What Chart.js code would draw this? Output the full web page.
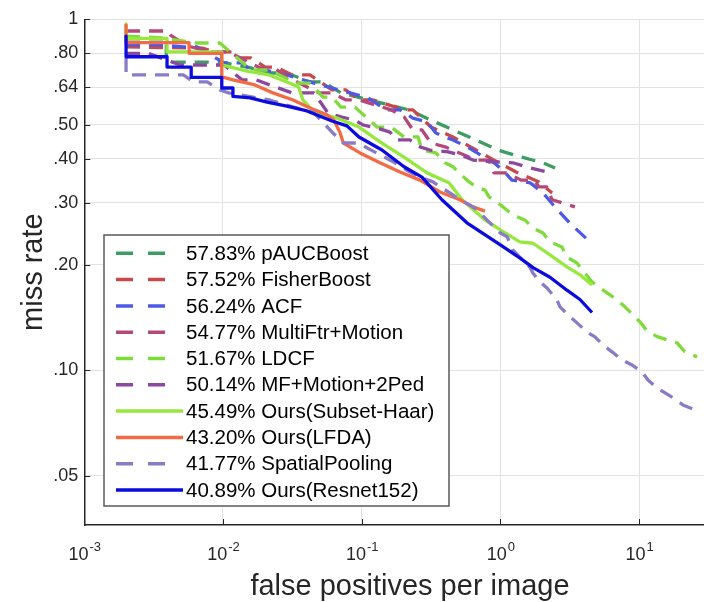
<!DOCTYPE html>
<html>
<head>
<meta charset="utf-8">
<script src="https://cdn.jsdelivr.net/npm/chart.js@4.4.1/dist/chart.umd.min.js"></script>
<style>
  html, body { margin: 0; padding: 0; background: #fff; }
</style>
</head>
<body>
<canvas id="roc" width="704" height="602"></canvas>
<script>
// false positives per image -> miss rate
const pAUCBoost = [[0.002,0.88],[0.0039,0.88],[0.0039,0.755],[0.0098,0.755],[0.0159,0.727],[0.0201,0.703],[0.0289,0.703],[0.0424,0.663],[0.0526,0.663],[0.0709,0.617],[0.140,0.577],[0.219,0.552],[0.316,0.516],[0.455,0.484],[0.667,0.453],[0.961,0.424],[1.41,0.405],[2.03,0.390],[2.48,0.377]];
const fisherBoost = [[0.002,0.834],[0.0071,0.828],[0.0088,0.807],[0.0118,0.807],[0.0128,0.776],[0.0159,0.776],[0.0201,0.731],[0.0241,0.731],[0.0314,0.694],[0.0424,0.694],[0.0611,0.629],[0.077,0.629],[0.0956,0.589],[0.121,0.589],[0.202,0.552],[0.234,0.552],[0.316,0.493],[0.455,0.462],[0.667,0.424],[0.899,0.397],[1.30,0.367],[1.90,0.344],[2.36,0.320]];
const acf = [[0.002,0.845],[0.0035,0.845],[0.0052,0.834],[0.0065,0.834],[0.0102,0.751],[0.0137,0.751],[0.0159,0.717],[0.0201,0.717],[0.0289,0.694],[0.0453,0.658],[0.0611,0.637],[0.0823,0.617],[0.111,0.597],[0.150,0.552],[0.189,0.552],[0.234,0.523],[0.296,0.510],[0.343,0.474],[0.399,0.462],[0.455,0.453],[0.574,0.433],[0.899,0.390],[1.04,0.372],[1.21,0.348],[1.64,0.342],[2.03,0.320],[2.40,0.296],[3.18,0.262],[4.43,0.232]];
const multiFtrMotion = [[0.002,0.926],[0.0040,0.926],[0.0042,0.90],[0.0055,0.84],[0.0082,0.807],[0.011,0.807],[0.0185,0.727],[0.0233,0.727],[0.0289,0.685],[0.0492,0.617],[0.0611,0.617],[0.077,0.589],[0.0956,0.589],[0.163,0.552],[0.202,0.527],[0.234,0.484],[0.272,0.484],[0.316,0.444],[0.399,0.433],[0.667,0.397],[0.828,0.397],[0.899,0.365],[1.12,0.365],[1.41,0.348],[1.75,0.348],[1.90,0.333],[2.16,0.333],[2.36,0.306],[3.45,0.292]];
const ldcf = [[0.002,0.896],[0.0036,0.885],[0.0065,0.856],[0.0095,0.856],[0.0159,0.717],[0.0215,0.717],[0.0336,0.658],[0.0424,0.658],[0.0526,0.600],[0.0611,0.600],[0.0709,0.562],[0.0895,0.562],[0.129,0.493],[0.163,0.493],[0.202,0.462],[0.255,0.462],[0.272,0.424],[0.343,0.416],[0.399,0.390],[0.455,0.380],[0.574,0.348],[0.667,0.333],[0.775,0.326],[0.828,0.312],[1.0,0.296],[1.23,0.277],[1.50,0.268],[1.72,0.254],[2.03,0.246],[2.28,0.232],[2.78,0.2245],[3.02,0.210],[3.57,0.202],[4.07,0.189],[4.58,0.1785],[5.22,0.1715],[6.17,0.1638],[6.93,0.1586],[7.91,0.1515],[9.04,0.1437],[10.15,0.1373],[11.6,0.1285],[13.7,0.1244],[15.9,0.122],[18.8,0.1196],[21.4,0.1128],[26.2,0.1091]];
const mfMotion2Ped = [[0.002,0.80],[0.0029,0.80],[0.0049,0.741],[0.0102,0.741],[0.0137,0.672],[0.0173,0.672],[0.0314,0.617],[0.0453,0.617],[0.0571,0.541],[0.0709,0.527],[0.0895,0.516],[0.102,0.500],[0.129,0.490],[0.160,0.477],[0.180,0.453],[0.223,0.453],[0.263,0.433],[0.311,0.424],[0.419,0.419],[0.511,0.411],[0.635,0.397],[0.841,0.393],[1.23,0.390],[1.64,0.377],[2.17,0.367],[2.36,0.367]];
const subsetHaar = [[0.002,0.970],[0.002,0.882],[0.00395,0.882],[0.00395,0.807],[0.0098,0.807],[0.0098,0.741],[0.0149,0.712],[0.0215,0.694],[0.0289,0.663],[0.0351,0.641],[0.0377,0.589],[0.0453,0.545],[0.0664,0.523],[0.0956,0.493],[0.140,0.444],[0.202,0.405],[0.296,0.365],[0.426,0.342],[0.53,0.306],[0.775,0.268],[1.0,0.251],[1.38,0.232],[1.72,0.230],[2.28,0.213],[3.02,0.197],[3.75,0.187],[4.58,0.175]];
const lfda = [[0.002,0.963],[0.002,0.858],[0.0057,0.858],[0.0057,0.80],[0.0098,0.80],[0.0098,0.685],[0.0118,0.672],[0.017,0.650],[0.0229,0.617],[0.032,0.589],[0.0424,0.559],[0.0562,0.534],[0.063,0.516],[0.0695,0.477],[0.0738,0.444],[0.0972,0.416],[0.1355,0.390],[0.189,0.367],[0.263,0.348],[0.367,0.322],[0.511,0.306],[0.635,0.292],[0.775,0.284]];
const spatialPooling = [[0.002,0.776],[0.002,0.694],[0.0052,0.694],[0.0061,0.663],[0.0077,0.663],[0.0095,0.629],[0.011,0.617],[0.0215,0.589],[0.0453,0.541],[0.0621,0.474],[0.0738,0.444],[0.094,0.444],[0.174,0.390],[0.223,0.367],[0.263,0.355],[0.327,0.344],[0.367,0.333],[0.433,0.320],[0.511,0.306],[0.635,0.292],[0.7125,0.281],[0.80,0.268],[1.0,0.246],[1.12,0.240],[1.23,0.220],[1.38,0.210],[1.64,0.196],[1.72,0.189],[1.93,0.1785],[2.17,0.1715],[2.56,0.1586],[2.69,0.1515],[3.18,0.142],[3.57,0.1364],[4.21,0.1285],[4.81,0.1244],[5.49,0.118],[6.38,0.1128],[7.53,0.107],[8.89,0.1035],[10.5,0.0989],[11.6,0.0938],[13.5,0.089],[17.6,0.0834],[20.7,0.0796],[25.3,0.077]];
const resnet152 = [[0.002,0.896],[0.002,0.782],[0.00395,0.782],[0.00395,0.731],[0.0059,0.731],[0.0059,0.683],[0.0098,0.683],[0.0098,0.637],[0.0118,0.637],[0.0118,0.603],[0.0157,0.597],[0.0208,0.581],[0.0289,0.566],[0.0403,0.548],[0.0611,0.513],[0.0783,0.497],[0.0956,0.462],[0.140,0.424],[0.202,0.380],[0.272,0.355],[0.379,0.306],[0.574,0.263],[1.0,0.2275],[1.38,0.209],[1.72,0.196],[2.28,0.184],[3.02,0.169],[3.75,0.159],[4.58,0.146]];

const seriesLabels = ["57.83% pAUCBoost", "57.52% FisherBoost", "56.24% ACF", "54.77% MultiFtr+Motion", "51.67% LDCF", "50.14% MF+Motion+2Ped", "45.49% Ours(Subset-Haar)", "43.20% Ours(LFDA)", "41.77% SpatialPooling", "40.89% Ours(Resnet152)"];
const seriesData = [pAUCBoost, fisherBoost, acf, multiFtrMotion, ldcf, mfMotion2Ped, subsetHaar, lfda, spatialPooling, resnet152];

const xTicks = [0.001, 0.01, 0.1, 1, 10];
const yTicks = [0.05, 0.1, 0.2, 0.3, 0.4, 0.5, 0.64, 0.8, 1];
const yTickText = [".05", ".10", ".20", ".30", ".40", ".50", ".64", ".80", "1"];
const xTitle = "false positives per image";
const yTitle = "miss rate";

// styles
const colors = ["#3c9c62", "#c9484a", "#4d5ae6", "#b5487a", "#7fdb3b", "#8c479e", "#97e83e", "#f26b45", "#8b7bc7", "#0b0be0"];
const dashed = [true, true, true, true, true, true, false, false, true, false];
const FONT = "'Liberation Sans', Arial, Helvetica, sans-serif";
const INK = "#262626";

Chart.defaults.font.family = FONT;
Chart.defaults.color = INK;

const datasets = seriesData.map((s, i) => ({
  label: seriesLabels[i],
  data: s.map(([x, y]) => ({ x, y })),
  borderColor: colors[i],
  backgroundColor: colors[i],
  borderWidth: 3.3,
  borderDash: dashed[i] ? [14, 9] : [],
  borderCapStyle: "butt",
  borderJoinStyle: "round",
  showLine: true,
  pointRadius: 0,
  tension: 0,
  order: seriesData.length - i
}));

// inward tick marks, x tick labels with superscripts, x title
const axisDecor = {
  id: "axisDecor",
  beforeDatasetsDraw(chart) {
    const { ctx, chartArea: a, scales: { x, y } } = chart;
    ctx.save();
    ctx.strokeStyle = INK;
    ctx.lineWidth = 1;
    ctx.beginPath();
    x.ticks.forEach(t => {
      const px = Math.round(x.getPixelForValue(t.value)) + 0.5;
      ctx.moveTo(px, a.bottom);
      ctx.lineTo(px, a.bottom - 6);
    });
    y.ticks.forEach(t => {
      const py = Math.round(y.getPixelForValue(t.value)) + 0.5;
      ctx.moveTo(a.left, py);
      ctx.lineTo(a.left + 6, py);
    });
    ctx.stroke();
    ctx.restore();
  },
  afterDraw(chart) {
    const { ctx, chartArea: a, scales: { x } } = chart;
    ctx.save();
    ctx.fillStyle = INK;
    ctx.textBaseline = "alphabetic";
    ctx.textAlign = "left";
    x.ticks.forEach(t => {
      const px = x.getPixelForValue(t.value);
      const exp = String(Math.round(Math.log10(t.value)));
      ctx.font = "18px " + FONT;
      const wBase = ctx.measureText("10").width;
      ctx.font = "13px " + FONT;
      const wExp = ctx.measureText(exp).width;
      const x0 = px - (wBase + wExp) / 2;
      ctx.font = "18px " + FONT;
      ctx.fillText("10", x0, a.bottom + 35);
      ctx.font = "13px " + FONT;
      ctx.fillText(exp, x0 + wBase + 1, a.bottom + 26);
    });
    // x title: MATLAB centred it on the full (cropped) axis
    ctx.font = "29px " + FONT;
    ctx.textAlign = "center";
    ctx.fillText(xTitle, 410, 595);
    ctx.restore();
  }
};

// boxed legend inside the plot
const legendBox = {
  id: "legendBox",
  afterDraw(chart) {
    const ctx = chart.ctx;
    const bx = 104, by = 235, bw = 345, bh = 271;
    ctx.save();
    ctx.fillStyle = "#fff";
    ctx.fillRect(bx, by, bw, bh);
    ctx.strokeStyle = "#5a5a5a";
    ctx.lineWidth = 1.5;
    ctx.strokeRect(bx, by, bw, bh);
    chart.data.datasets.forEach((ds, i) => {
      const cy = by + 18.3 + i * 26.3;
      const isDashed = ds.borderDash.length > 0;
      ctx.strokeStyle = ds.borderColor;
      ctx.lineWidth = 3.5;
      ctx.lineCap = "butt";
      ctx.setLineDash(isDashed ? [17, 15] : []);
      ctx.beginPath();
      ctx.moveTo(116, cy);
      ctx.lineTo(isDashed ? 165 : 183, cy);
      ctx.stroke();
      ctx.setLineDash([]);
      ctx.fillStyle = "#000";
      ctx.font = "20.5px " + FONT;
      ctx.textAlign = "left";
      ctx.textBaseline = "middle";
      ctx.fillText(ds.label, 186, cy + 1);
    });
    ctx.restore();
  }
};

new Chart(document.getElementById("roc"), {
  type: "scatter",
  data: { datasets },
  options: {
    responsive: false,
    animation: false,
    devicePixelRatio: 1,
    layout: { padding: { top: 19.3, right: 0, bottom: 0, left: 0 } },
    plugins: { legend: { display: false }, tooltip: { enabled: false } },
    scales: {
      x: {
        type: "logarithmic",
        min: 0.001,
        max: 29.4,
        afterBuildTicks: s => { s.ticks = xTicks.map(v => ({ value: v })); },
        afterFit: s => { s.height = 77; },
        ticks: { display: false },
        grid: { color: "#e2e2e2", lineWidth: 1, drawTicks: false },
        border: { color: INK, width: 1.5 },
        title: { display: false }
      },
      y: {
        type: "logarithmic",
        min: 0.0362,
        max: 1,
        afterBuildTicks: s => { s.ticks = yTicks.map(v => ({ value: v })); },
        afterFit: s => { s.width = 84.3; },
        ticks: {
          font: { size: 18 },
          color: INK,
          padding: 6,
          callback: v => {
            const k = yTicks.findIndex(t => Math.abs(t - v) < 1e-9);
            return k < 0 ? "" : yTickText[k];
          }
        },
        grid: { color: "#e2e2e2", lineWidth: 1, drawTicks: false },
        border: { color: INK, width: 1.5 },
        title: { display: true, text: yTitle, font: { size: 29 }, color: INK, padding: { top: 17, bottom: 0 } }
      }
    }
  },
  plugins: [axisDecor, legendBox]
});
</script>
</body>
</html>
